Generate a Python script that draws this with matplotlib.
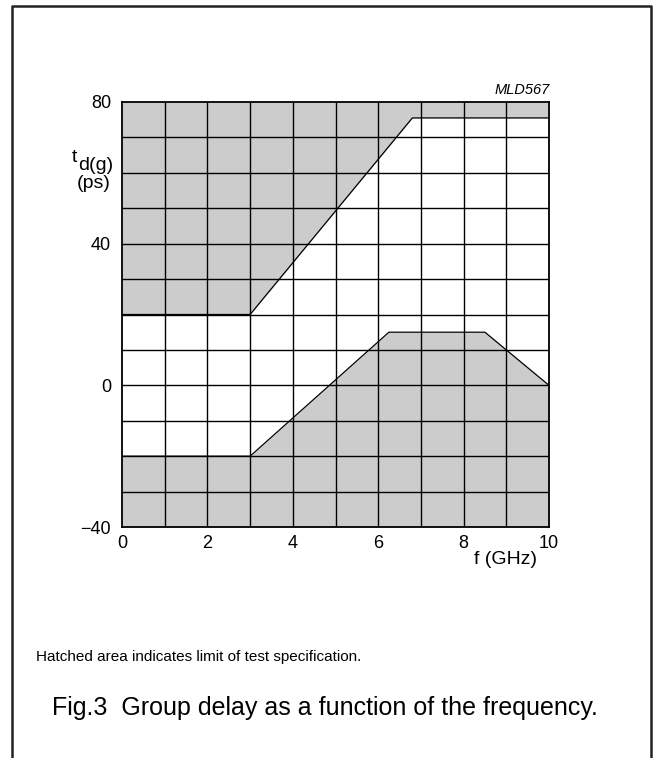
import matplotlib
matplotlib.use("Agg")
import matplotlib.pyplot as plt
from matplotlib.lines import Line2D

plt.rcParams['font.family'] = ['Liberation Sans', 'DejaVu Sans']

# Data
upper_f = [0, 3, 6.8, 10]
upper_td = [20, 20, 75.5, 75.5]
lower_f = [0, 3, 6.25, 8.5, 10]
lower_td = [-20, -20, 15, 15, 0]
x_ticks = [0, 2, 4, 6, 8, 10]
y_ticks = [-40, 0, 40, 80]
y_tick_labels = ['\u221240', '0', '40', '80']

W, H = 653, 758
fig = plt.figure(figsize=(W / 100, H / 100), dpi=100)

def fx(px):
    return px / W

def fy(py):
    return 1 - py / H

ax = fig.add_axes([fx(122), fy(527), fx(549) - fx(122), fy(102) - fy(527)])
ax.set_xlim(0, 10)
ax.set_ylim(-40, 80)

fill_c = '#cccccc'
ax.fill_between(upper_f, upper_td, 80, color=fill_c, lw=0, zorder=1)
ax.fill_between(lower_f, -40, lower_td, color=fill_c, lw=0, zorder=1)

for xv in range(1, 10):
    ax.axvline(xv, color='black', lw=1.0, zorder=2)
for yv in range(-30, 80, 10):
    ax.axhline(yv, color='black', lw=1.0, zorder=2)

ax.plot(upper_f, upper_td, color='black', lw=0.9, zorder=3)
ax.plot(lower_f, lower_td, color='black', lw=0.9, zorder=3)

for s in ax.spines.values():
    s.set_linewidth(1.3)
    s.set_color('black')
    s.set_zorder(4)

ax.set_xticks(x_ticks)
ax.set_yticks(y_ticks)
ax.set_yticklabels(y_tick_labels)
ax.tick_params(length=0, labelsize=13)
ax.tick_params(axis='x', pad=6)
ax.tick_params(axis='y', pad=8)

fig.text(fx(537), fy(560), 'f (GHz)', ha='right', va='center', fontsize=14)
fig.text(fx(72), fy(157), 't', ha='left', va='center', fontsize=14)
fig.text(fx(78), fy(165), 'd(g)', ha='left', va='center', fontsize=14)
fig.text(fx(77), fy(183), '(ps)', ha='left', va='center', fontsize=14)
fig.text(fx(550), fy(90), 'MLD567', ha='right', va='center', fontsize=10.5, style='italic')

fig.text(fx(36), fy(657), 'Hatched area indicates limit of test specification.',
         ha='left', va='center', fontsize=11)
fig.text(fx(52), fy(708), 'Fig.3  Group delay as a function of the frequency.',
         ha='left', va='center', fontsize=18)

# Frame
fig.add_artist(Line2D([fx(12), fx(12), fx(651), fx(651)],
                      [0, fy(6), fy(6), 0], transform=fig.transFigure,
                      color='#222222', lw=1.8))

fig.savefig('out.png', dpi=100)
